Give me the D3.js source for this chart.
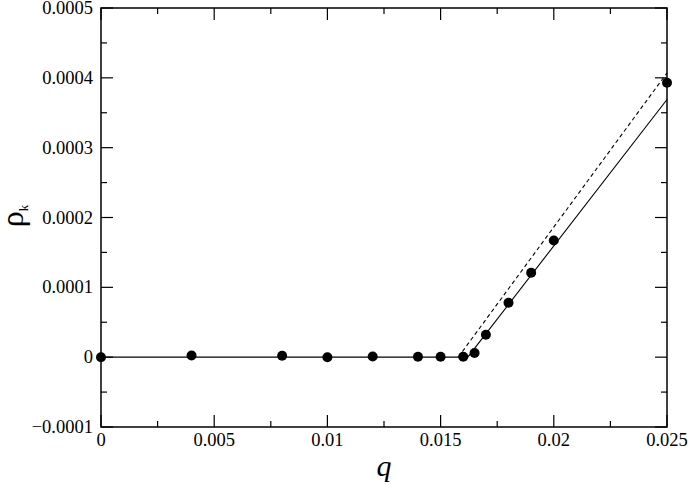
<!DOCTYPE html>
<html>
<head>
<meta charset="utf-8" />
<title>rho_k vs q</title>
<script src="https://d3js.org/d3.v7.min.js"></script>
<style>
  body { margin: 0; background: #fff; }
</style>
</head>
<body>
<svg id="chart"></svg>
<script>
// measured points (q, rho_k)
var qValues   = [0, 0.004, 0.008, 0.010, 0.012, 0.014, 0.015, 0.016, 0.0165, 0.017, 0.018, 0.019, 0.020, 0.025];
var rhoValues = [0, 0.0000025, 0.000002, 0, 0.000001, 0.0000005, 0.0000005, 0.0000005, 0.000006, 0.000032, 0.000078, 0.000121, 0.000167, 0.000393];

// solid fit: flat then linear
var solidQ   = [0, 0.0162, 0.025];
var solidRho = [0, 0, 0.000369];
// dashed fit
var dashQ   = [0.01578, 0.025];
var dashRho = [0, 0.000407];

var xTicks = [0, 0.005, 0.01, 0.015, 0.02, 0.025];
var xTickLabels = ["0", "0.005", "0.01", "0.015", "0.02", "0.025"];
var yTicks = [-0.0001, 0, 0.0001, 0.0002, 0.0003, 0.0004, 0.0005];
var yTickLabels = ["\u22120.0001", "0", "0.0001", "0.0002", "0.0003", "0.0004", "0.0005"];

var FONT = "'Liberation Serif', 'Times New Roman', serif";

var width = 690, height = 485;
var margin = {left: 101, right: 23, top: 8, bottom: 58};

var svg = d3.select("#chart").attr("width", width).attr("height", height);

var x = d3.scaleLinear().domain([0, 0.025]).range([margin.left, width - margin.right]);
var y = d3.scaleLinear().domain([-0.0001, 0.0005]).range([height - margin.bottom, margin.top]);

var x0 = x.range()[0], x1 = x.range()[1], y0 = y.range()[0], y1 = y.range()[1];

// minor ticks halfway between majors
var xMinor = d3.range(xTicks.length - 1).map(function(i){ return (xTicks[i] + xTicks[i+1]) / 2; });
var yMinor = d3.range(yTicks.length - 1).map(function(i){ return (yTicks[i] + yTicks[i+1]) / 2; });

var ticks = svg.append("g").attr("stroke", "#000").attr("stroke-width", 1.2);

function drawTicks(vals, len){
  vals.forEach(function(v){
    // bottom & top
    ticks.append("line").attr("x1", x(v)).attr("x2", x(v)).attr("y1", y0).attr("y2", y0 - len);
    ticks.append("line").attr("x1", x(v)).attr("x2", x(v)).attr("y1", y1).attr("y2", y1 + len);
  });
}
function drawYTicks(vals, len){
  vals.forEach(function(v){
    ticks.append("line").attr("y1", y(v)).attr("y2", y(v)).attr("x1", x0).attr("x2", x0 + len);
    ticks.append("line").attr("y1", y(v)).attr("y2", y(v)).attr("x1", x1).attr("x2", x1 - len);
  });
}
drawTicks(xTicks, 12);
drawTicks(xMinor, 6);
drawYTicks(yTicks, 12);
drawYTicks(yMinor, 6);

// tick labels
svg.append("g").selectAll("text")
   .data(xTicks)
   .enter().append("text")
   .attr("x", function(d){ return x(d); })
   .attr("y", y0 + 19)
   .attr("text-anchor", "middle")
   .style("font-family", FONT)
   .style("font-size", "18.5px")
   .text(function(d, i){ return xTickLabels[i]; });

svg.append("g").selectAll("text")
   .data(yTicks)
   .enter().append("text")
   .attr("x", x0 - 8)
   .attr("y", function(d){ return y(d); })
   .attr("dy", "0.33em")
   .attr("text-anchor", "end")
   .style("font-family", FONT)
   .style("font-size", "18.5px")
   .text(function(d, i){ return yTickLabels[i]; });

// fit lines
var line = d3.line()
             .x(function(d){ return x(d[0]); })
             .y(function(d){ return y(d[1]); });

svg.append("path")
   .attr("d", line(d3.zip(solidQ, solidRho)))
   .attr("fill", "none")
   .attr("stroke", "#000")
   .attr("stroke-width", 1.1);

svg.append("path")
   .attr("d", line(d3.zip(dashQ, dashRho)))
   .attr("fill", "none")
   .attr("stroke", "#000")
   .attr("stroke-width", 1.1)
   .attr("stroke-dasharray", "4,3");

// points
svg.append("g").selectAll("circle")
   .data(d3.zip(qValues, rhoValues))
   .enter().append("circle")
   .attr("cx", function(d){ return x(d[0]); })
   .attr("cy", function(d){ return y(d[1]); })
   .attr("r", 5)
   .attr("fill", "#000");

// frame
svg.append("rect")
   .attr("x", x0).attr("y", y1)
   .attr("width", x1 - x0).attr("height", y0 - y1)
   .attr("fill", "none")
   .attr("stroke", "#000")
   .attr("stroke-width", 1.5);

// axis labels
svg.append("text")
   .attr("x", (x0 + x1) / 2)
   .attr("y", 476)
   .attr("text-anchor", "middle")
   .style("font-family", FONT)
   .style("font-size", "30px")
   .style("font-style", "italic")
   .text("q");

var yl = svg.append("text")
   .attr("transform", "translate(23,216) rotate(-90)")
   .attr("text-anchor", "middle")
   .style("font-family", FONT)
   .style("font-size", "32px");
yl.append("tspan").text("\u03C1");
yl.append("tspan").style("font-size", "13px").attr("dy", "5").text("k");
</script>
</body>
</html>
